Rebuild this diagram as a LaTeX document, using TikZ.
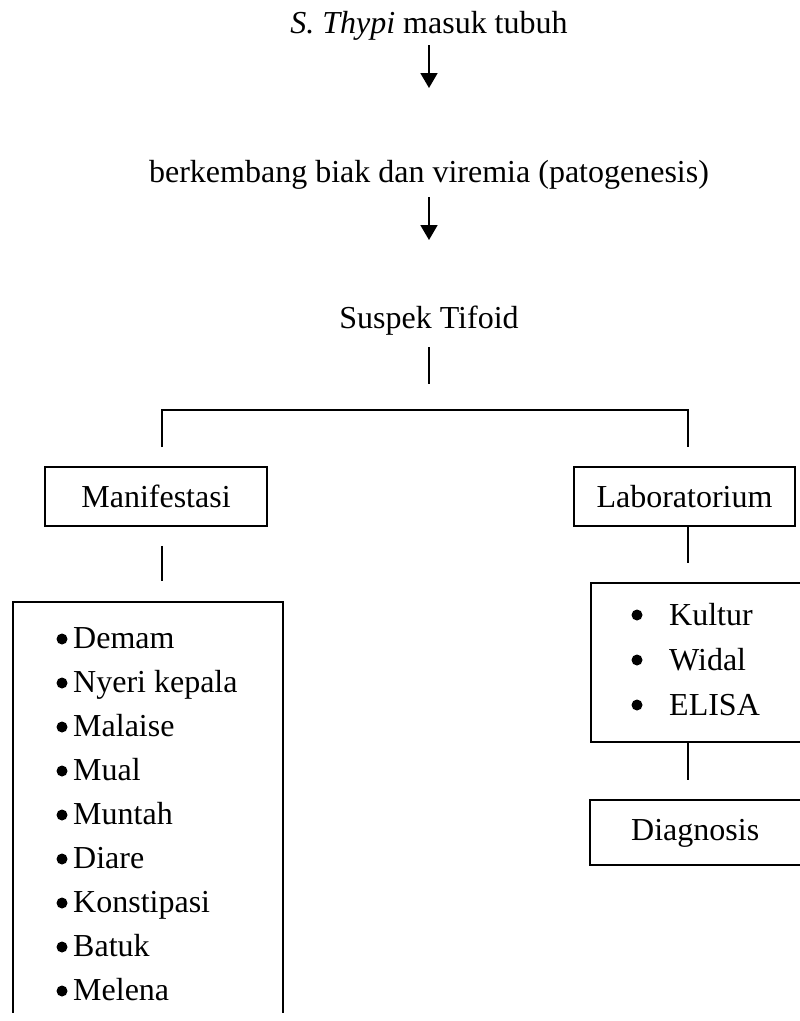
\documentclass[tikz,border=0pt]{standalone}
\usepackage{fontspec}
\setmainfont{Liberation Serif}
\usetikzlibrary{arrows.meta}
\begin{document}
\begin{tikzpicture}[x=1pt,y=-1pt,
  every node/.style={font=\fontsize{32}{38}\selectfont},
  ln/.style={line width=1.8pt},
  arr/.style={ln,-{Triangle[width=17pt,length=15pt]}},
  box/.style={draw,line width=1.8pt,inner sep=0pt},
  txt/.style={inner sep=0pt,anchor=base},
  item/.style={inner sep=0pt,anchor=base west},
  dot/.style={circle,fill,inner sep=0pt,minimum size=11pt}]
\useasboundingbox (0,0) rectangle (800,1021);
\clip (0,0) rectangle (800,1012);

% top chain
\node[txt] (t1) at (429,33) {\textit{S. Thypi} masuk tubuh};
\coordinate (a1) at (429,88);
\node[txt] (t2) at (429,182) {berkembang biak dan viremia (patogenesis)};
\coordinate (a2) at (429,240);
\node[txt] (t3) at (429,328) {Suspek Tifoid};
\coordinate (j1) at (429,384);

\draw[arr,shorten <=5pt] (t1.south) -- (a1);
\draw[arr,shorten <=8pt] (t2.south) -- (a2);
\draw[ln,shorten <=12pt] (t3.south) -- (j1);

% boxes
\node[box,minimum width=222pt,minimum height=59pt] (man) at (156,496.5) {Manifestasi};
\node[box,minimum width=221pt,minimum height=59pt] (lab) at (684.5,496.5) {Laboratorium};
\node[box,minimum width=270pt,minimum height=440pt] (gej) at (148,822) {};
\node[box,minimum width=239pt,minimum height=159pt] (tes) at (710.5,662.5) {};
\node[box,minimum width=240pt,minimum height=65pt] (dia) at (710,832.5) {};
\node[item] (diat) at (631,840) {Diagnosis};

% branch
\coordinate (bl) at (162,448);
\coordinate (br) at (688,448);
\coordinate (hl) at (162,410);
\coordinate (hr) at (688,410);
\draw[ln,shorten <=19pt,shorten >=19pt] (man.north -| bl) -- (hl) -- (hr) -- (lab.north -| br);

\draw[ln,shorten <=19pt,shorten >=20pt] (man.south -| bl) -- (gej.north -| bl);
\draw[ln,shorten >=19pt] (lab.south -| br) -- (tes.north -| br);
\draw[ln,shorten >=19pt] (tes.south -| br) -- (dia.north -| br);

% left list
\foreach \t [count=\i] in {Demam,Nyeri kepala,Malaise,Mual,Muntah,Diare,Konstipasi,Batuk,Melena}{
  \node[dot] (gd\i) at (62,{648+44*(\i-1)-9}) {};
  \node[item] (gi\i) at (73,{648+44*(\i-1)}) {\t};
}

% right list
\foreach \t [count=\i] in {Kultur,Widal,ELISA}{
  \node[dot] (td\i) at (637,{625+45*(\i-1)-10}) {};
  \node[item] (ti\i) at (669,{625+45*(\i-1)}) {\t};
}
\end{tikzpicture}
\end{document}
